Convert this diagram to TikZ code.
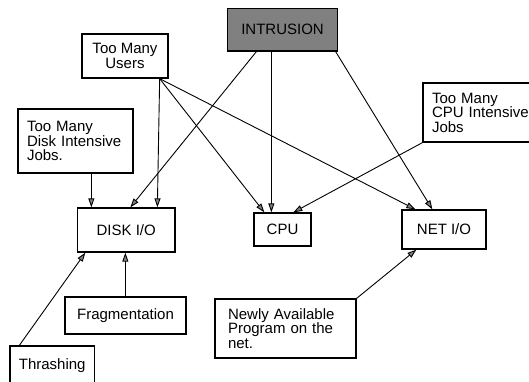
\documentclass[tikz,border=0pt]{standalone}
\usepackage{fontspec}
\setmainfont{Liberation Sans}
\usetikzlibrary{calc,%             offsets from anchors
arrows.meta}%                      gray triangle tips
\tikzset{every node/.style={font=\fontsize{7.5}{7.25}\selectfont},
  box/.style={draw, line width=0.65pt, rectangle, inner sep=0pt, align=center},
  notebox/.style={draw, line width=0.65pt, rectangle, inner ysep=0pt, align=left},
  cause/.style={-{Triangle[length=4.5pt,width=3pt,fill=black!50]}, line width=0.45pt}}

\begin{document}
\begin{tikzpicture}[x=0.5pt, y=-0.5pt]
      \useasboundingbox (0,0) rectangle (529,381);
      % boxes
      \node[box, fill=black!50, minimum width=55pt, minimum height=21.25pt]
        (intr) at (282.5,29.75) {INTRUSION};
      \node[box, minimum width=43pt, minimum height=22pt]
        (users) at (125,56) {Too Many\\Users};
      \node[notebox, inner xsep=4.5pt, text width=48.5pt, minimum height=32pt]
        (djobs) at (75.5,141) {Too Many\\Disk Intensive\\Jobs.};
      \node[notebox, inner xsep=4.5pt, text width=52pt, minimum height=29.5pt]
        (cjobs) at (484,112.5) {Too Many\\CPU Intensive\\Jobs};
      \node[box, minimum width=48.75pt, minimum height=22pt]
        (disk) at (126.25,230) {DISK I/O};
      \node[box, minimum width=28.5pt, minimum height=16.5pt]
        (cpu) at (282.5,229.5) {CPU};
      \node[box, minimum width=42pt, minimum height=19.5pt]
        (net) at (444,229.5) {NET I/O};
      \node[box, minimum width=60.5pt, minimum height=18.5pt]
        (frag) at (125.5,315.5) {Fragmentation};
      \node[box, minimum width=42.25pt, minimum height=20pt]
        (thrash) at (52.25,366) {Thrashing};
      \node[notebox, inner xsep=6.5pt, text width=57.5pt, minimum height=29.5pt]
        (newprog) at (285.5,328.5) {Newly Available\\Program on the\\net.};
      % connectors
      \draw[cause] ($(users.south east)+(-9,0)$) -- ($(disk.north west)+(80.5,0)$);
      \draw[cause] ($(users.south east)+(-9,0)$) -- ($(cpu.north west)+(11,0)$);
      \draw[cause] ($(users.south east)+(-9,0)$) -- ($(net.north west)+(14,0)$);
      \draw[cause] ($(intr.south west)+(29.5,0)$) -- ($(disk.north west)+(53.5,0)$);
      \draw[cause] ($(intr.south west)+(44.5,0)$) -- ($(cpu.north west)+(18,0)$);
      \draw[cause] ($(intr.south east)+(-2.5,0)$) -- ($(net.north west)+(31,0)$);
      \draw[cause] ($(djobs.south west)+(74,0)$) -- ($(disk.north west)+(14.5,0)$);
      \draw[cause] (cjobs.south west) -- ($(cpu.north west)+(40,0)$);
      \draw[cause] ($(frag.north west)+(61,0)$) -- ($(disk.south west)+(48.5,0)$);
      \draw[cause] ($(thrash.north west)+(10,0)$) -- ($(disk.south west)+(8.5,0)$);
      \draw[cause] (newprog.north east) -- ($(net.south west)+(15,0)$);
    \end{tikzpicture}
\end{document}
